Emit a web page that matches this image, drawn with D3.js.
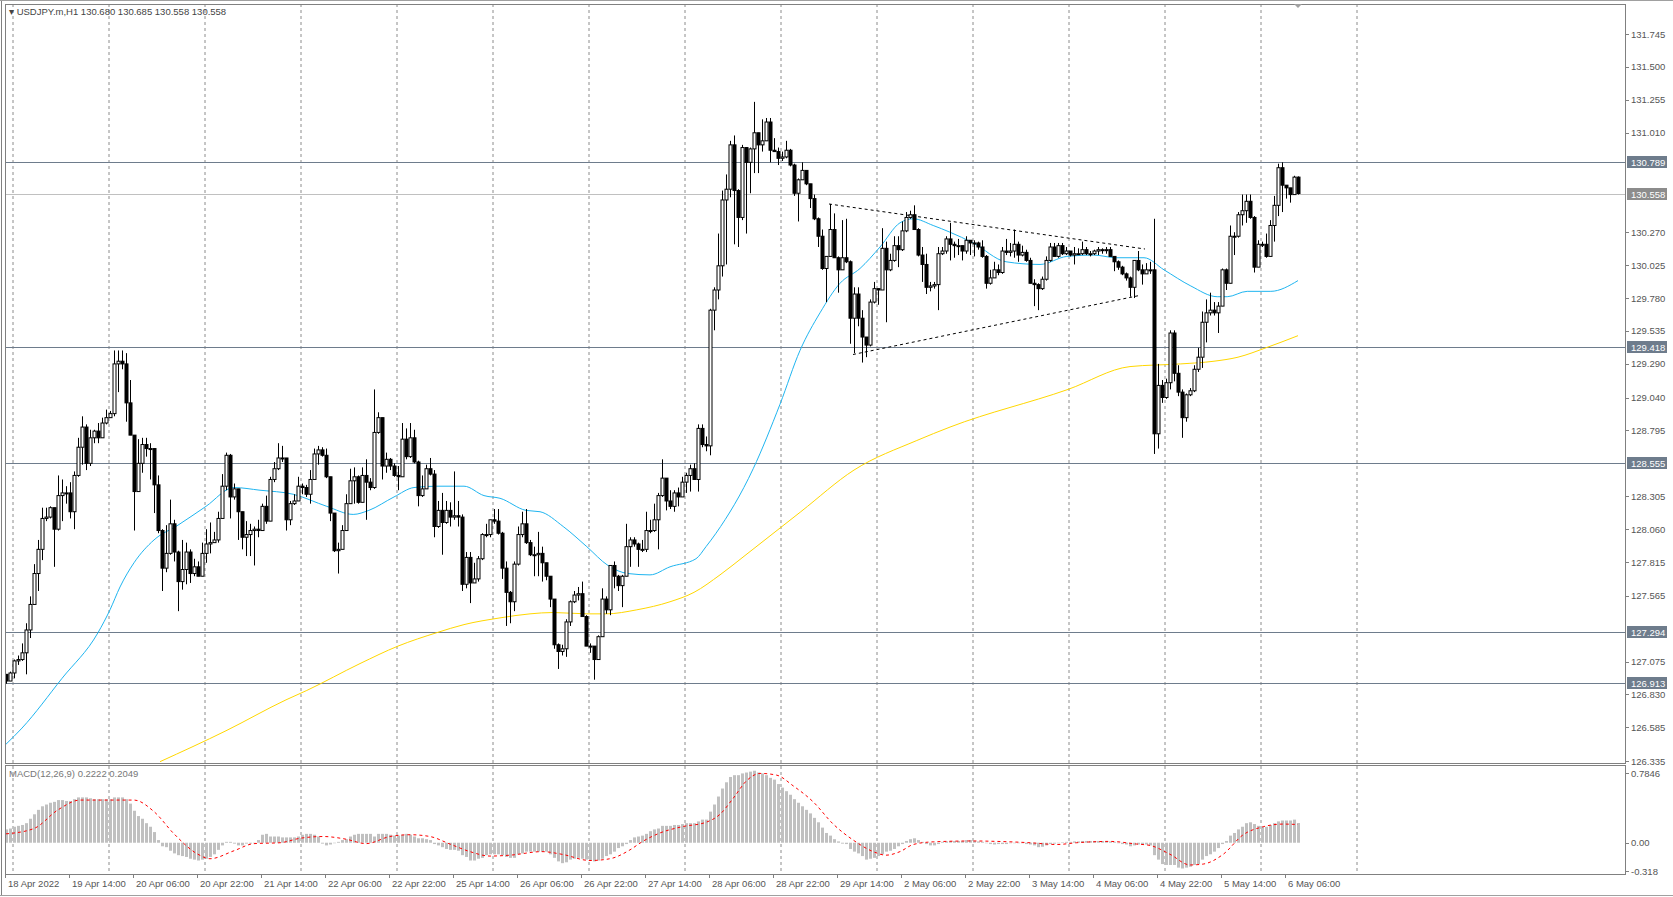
<!DOCTYPE html>
<html>
<head>
<meta charset="utf-8">
<script src="https://cdn.jsdelivr.net/npm/d3@7"></script>
<style>
  body { margin: 0; background: #fff; }
  text { font-family: "Liberation Sans", Arial, sans-serif; }
</style>
</head>
<body>
<div id="chart"></div>
<script>
// USDJPY.m H1
const closes = [
  126.93,126.99,127.08,127.09,127.14,127.31,127.50,127.73,127.91,128.14,
  128.15,128.22,128.06,128.31,128.33,128.33,128.19,128.46,128.67,128.82,
  128.55,128.74,128.79,128.74,128.85,128.89,128.92,129.29,129.31,129.29,
  129.00,128.76,128.34,128.55,128.69,128.66,128.66,128.39,128.05,127.77,
  127.88,128.10,127.89,127.67,127.76,127.89,127.73,127.78,127.71,127.88,
  127.95,127.96,127.98,128.14,128.38,128.61,128.30,128.36,128.19,128.00,
  128.02,128.05,128.06,128.05,128.23,128.12,128.43,128.51,128.59,128.59,
  128.13,128.25,128.27,128.38,128.37,128.32,128.43,128.62,128.65,128.61,
  128.45,128.18,127.90,127.91,128.05,128.25,128.42,128.45,128.26,128.46,
  128.41,128.37,128.78,128.89,128.53,128.58,128.53,128.46,128.45,128.73,
  128.60,128.74,128.56,128.31,128.36,128.51,128.47,128.08,128.20,128.11,
  128.20,128.15,128.16,128.15,127.65,127.85,127.66,127.69,127.84,128.02,
  128.02,128.13,128.12,128.03,127.77,127.59,127.52,127.80,128.02,128.10,
  127.96,127.87,127.87,127.88,127.81,127.71,127.54,127.20,127.15,127.17,
  127.37,127.52,127.57,127.58,127.41,127.19,127.19,127.09,127.26,127.54,
  127.46,127.79,127.71,127.64,127.71,127.93,127.98,127.95,127.91,127.91,
  128.05,128.05,128.13,128.31,128.44,128.27,128.23,128.33,128.30,128.41,
  128.46,128.51,128.43,128.81,128.69,128.68,129.69,129.84,130.02,130.51,
  130.59,130.92,130.58,130.38,130.90,130.79,130.89,131.01,130.92,130.95,
  131.09,130.88,130.87,130.82,130.83,130.88,130.77,130.56,130.66,130.73,
  130.63,130.52,130.37,130.24,130.00,130.09,130.29,130.08,129.99,130.08,
  130.05,129.63,129.81,129.63,129.49,129.43,129.75,129.85,129.84,130.15,
  129.99,130.06,130.17,130.14,130.28,130.38,130.40,130.29,130.10,130.03,
  129.86,129.87,129.88,130.11,130.13,130.22,130.18,130.17,130.17,130.13,
  130.21,130.19,130.19,130.16,130.09,129.89,129.93,129.99,129.97,130.13,
  130.12,130.13,130.18,130.10,130.12,130.06,129.89,129.88,129.85,129.92,
  130.06,130.16,130.09,130.17,130.11,130.13,130.10,130.11,130.11,130.14,
  130.11,130.11,130.13,130.14,130.14,130.14,130.09,130.05,130.01,129.96,
  129.93,129.86,130.06,129.99,129.96,129.99,129.99,128.77,129.13,129.04,
  129.15,129.52,129.22,129.08,128.89,129.06,129.09,129.25,129.34,129.60,
  129.67,129.69,129.67,129.72,129.99,129.89,130.24,130.24,130.40,130.43,
  130.50,130.38,130.01,130.18,130.18,130.09,130.32,130.47,130.75,130.62,
  130.60,130.55,130.68,130.558
];
const firstOpen = 126.98;
const highs = [
  126.98,127.00,127.09,127.12,127.21,127.36,127.56,127.80,127.98,128.22,
  128.22,128.23,128.22,128.46,128.43,128.38,128.41,128.49,128.74,128.90,
  128.84,128.80,128.80,128.85,128.89,128.95,128.94,129.39,129.39,129.39,
  129.37,129.17,128.76,128.73,128.74,128.74,128.70,128.46,128.46,128.06,
  128.09,128.28,128.13,127.90,127.98,127.96,127.91,127.84,127.82,127.96,
  128.06,128.11,128.04,128.19,128.47,128.63,128.62,128.40,128.27,128.19,
  128.12,128.10,128.08,128.13,128.25,128.31,128.45,128.56,128.70,128.68,
  128.59,128.27,128.32,128.45,128.40,128.39,128.50,128.66,128.68,128.67,
  128.66,128.45,128.18,127.96,128.09,128.32,128.51,128.52,128.46,128.52,
  128.58,128.44,129.10,128.93,128.89,128.63,128.59,128.55,128.53,128.85,
  128.81,128.85,128.80,128.57,128.46,128.54,128.59,128.50,128.27,128.33,
  128.27,128.26,128.49,128.27,128.17,127.89,127.89,127.81,127.86,128.03,
  128.10,128.13,128.21,128.21,128.04,127.82,127.60,127.82,128.08,128.19,
  128.21,127.98,127.93,128.04,127.93,127.81,127.71,127.54,127.21,127.20,
  127.39,127.53,127.60,127.63,127.67,127.42,127.21,127.19,127.27,127.62,
  127.56,127.79,127.82,127.72,127.72,128.10,128.00,128.00,127.96,127.98,
  128.19,128.13,128.25,128.33,128.58,128.44,128.35,128.35,128.37,128.45,
  128.48,128.54,128.55,128.84,128.84,128.75,129.70,129.86,130.26,130.58,
  130.70,130.95,130.99,130.59,130.92,130.90,130.90,131.24,131.01,131.11,
  131.12,131.12,130.97,130.90,130.87,130.95,130.89,130.78,130.67,130.79,
  130.73,130.63,130.55,130.38,130.29,130.09,130.48,130.41,130.09,130.36,
  130.37,130.06,129.86,129.86,129.69,129.49,129.77,129.90,129.85,130.30,
  130.20,130.11,130.24,130.24,130.35,130.42,130.43,130.47,130.30,130.16,
  130.11,129.90,129.90,130.16,130.16,130.24,130.34,130.20,130.22,130.17,
  130.24,130.21,130.21,130.20,130.21,130.10,129.99,130.05,130.03,130.16,
  130.22,130.19,130.29,130.20,130.17,130.14,130.08,129.92,129.89,129.94,
  130.09,130.19,130.19,130.19,130.19,130.16,130.13,130.16,130.15,130.20,
  130.16,130.13,130.14,130.16,130.15,130.16,130.16,130.09,130.06,130.02,
  129.97,129.94,130.06,130.13,130.03,130.04,130.05,130.37,129.29,129.17,
  129.18,129.54,129.54,129.28,129.10,129.07,129.11,129.28,129.41,129.68,
  129.77,129.82,129.75,129.75,130.00,130.00,130.32,130.27,130.42,130.55,
  130.55,130.55,130.39,130.21,130.20,130.26,130.36,130.54,130.78,130.79,
  130.62,130.60,130.69,130.685
];
const lows = [
  126.91,126.94,126.95,127.05,127.08,126.98,127.25,127.50,127.60,127.83,
  128.12,128.14,127.78,128.05,128.12,128.25,128.14,128.06,128.45,128.54,
  128.50,128.53,128.70,128.70,128.74,128.84,128.89,128.90,129.08,129.25,
  128.86,128.77,128.05,128.34,128.48,128.60,128.43,128.18,128.03,127.60,
  127.74,127.87,127.82,127.45,127.61,127.65,127.66,127.71,127.71,127.71,
  127.81,127.88,127.96,127.96,128.19,128.35,128.14,128.28,127.98,127.91,
  127.86,127.86,127.79,128.00,128.05,128.10,128.18,128.41,128.50,128.56,
  128.05,128.09,128.24,128.27,128.32,128.30,128.25,128.43,128.54,128.60,
  128.44,128.12,127.89,127.73,127.91,128.05,128.25,128.25,128.25,128.26,
  128.13,128.35,128.36,128.77,128.43,128.48,128.50,128.45,128.35,128.49,
  128.58,128.59,128.55,128.23,128.30,128.36,128.46,128.00,128.07,127.87,
  128.10,128.08,128.13,128.08,127.60,127.62,127.51,127.66,127.67,127.83,
  128.00,128.00,128.10,128.02,127.69,127.34,127.36,127.45,127.79,128.00,
  127.95,127.86,127.71,127.71,127.67,127.68,127.48,127.17,127.02,127.12,
  127.11,127.34,127.51,127.53,127.41,127.19,127.14,126.94,127.09,127.26,
  127.43,127.42,127.62,127.60,127.48,127.71,127.78,127.93,127.78,127.89,
  127.89,128.03,128.04,127.91,128.30,128.20,128.21,128.19,128.23,128.30,
  128.33,128.34,128.43,128.34,128.67,128.64,128.61,129.54,129.77,129.94,
  130.03,130.53,130.18,130.16,130.36,130.26,130.56,130.71,130.71,130.87,
  130.95,130.79,130.87,130.77,130.80,130.82,130.76,130.54,130.35,130.66,
  130.62,130.45,130.36,130.16,129.99,129.75,130.09,130.08,129.82,129.99,
  130.04,129.44,129.37,129.57,129.30,129.34,129.42,129.74,129.73,129.85,
  129.60,129.98,130.05,130.01,130.13,130.27,130.37,130.29,130.09,129.90,
  129.81,129.83,129.85,129.69,130.10,130.11,130.06,130.08,130.10,130.06,
  130.11,130.10,130.09,130.14,130.08,129.85,129.88,129.93,129.95,129.96,
  130.10,130.09,130.08,130.05,130.09,130.05,129.89,129.72,129.69,129.84,
  129.91,130.05,130.09,130.08,130.10,130.10,130.09,130.03,130.10,130.10,
  130.10,130.09,130.10,130.10,130.11,130.11,130.09,129.98,129.99,129.95,
  129.91,129.79,129.78,129.98,129.88,129.96,129.96,128.62,128.66,129.00,
  129.03,129.10,129.16,129.05,128.74,128.86,129.05,129.08,129.23,129.26,
  129.45,129.65,129.65,129.52,129.72,129.84,129.89,130.10,130.23,130.32,
  130.34,130.37,129.97,130.01,130.16,130.08,130.09,130.20,130.39,130.42,
  130.52,130.49,130.55,130.55
];

// moving averages (bar index, price)
const maFastBars = [0,4,14,23,26,28.5,32,37,43,50,57,63.5,71.8,80.2,86.8,90.7,97,102,107.7,114.5,119.5,123.5,130,133.5,139.3,145.2,150.5,155.5,161,166,172.5,175,177.5,186.8,193.5,198.5,203.5,208.5,213.5,218.5,223.5,226.8,231.8,236,241.8,250,258.5,265.2,271.8,277.7,284.5,289.5,296.2,302.8,305.3,310.3,316.2,323];
const maFastVals = [126.46,126.58,126.95,127.29,127.46,127.63,127.81,127.98,128.09,128.23,128.37,128.35,128.32,128.23,128.17,128.20,128.30,128.37,128.38,128.38,128.31,128.29,128.20,128.19,128.08,127.93,127.79,127.73,127.72,127.78,127.84,127.93,128.03,128.51,128.99,129.39,129.67,129.89,130.00,130.16,130.34,130.37,130.32,130.27,130.19,130.05,130.03,130.09,130.10,130.08,130.08,129.99,129.87,129.79,129.79,129.83,129.83,129.91];
const maSlowBars = [38.5,55,70,75.2,88.5,98,107.7,114.5,123.5,131,136.8,145.2,150,157.7,166,172,178.5,185,198.7,212,227.7,236,265.5,281,293.7,302,308,315,323];
const maSlowVals = [126.33,126.56,126.79,126.86,127.06,127.19,127.29,127.35,127.40,127.43,127.44,127.43,127.43,127.46,127.52,127.59,127.72,127.87,128.19,128.50,128.72,128.82,129.10,129.27,129.29,129.31,129.34,129.41,129.50];

// MACD(12,26,9)
const macdHist = [
  0.15,0.16,0.18,0.19,0.20,0.22,0.27,0.32,0.37,0.41,
  0.43,0.45,0.46,0.48,0.48,0.47,0.47,0.49,0.51,0.51,
  0.51,0.50,0.49,0.49,0.49,0.49,0.49,0.51,0.51,0.51,
  0.49,0.44,0.36,0.30,0.27,0.22,0.18,0.12,0.03,-0.04,
  -0.05,-0.09,-0.12,-0.14,-0.15,-0.16,-0.18,-0.19,-0.20,-0.19,
  -0.18,-0.16,-0.13,-0.08,-0.03,0.01,0.01,-0.01,-0.03,-0.03,
  -0.01,-0.01,0.00,0.03,0.09,0.10,0.07,0.07,0.07,0.06,
  0.06,0.06,0.06,0.07,0.09,0.10,0.10,0.09,0.07,-0.01,
  -0.03,-0.02,0.00,0.01,0.03,0.04,0.07,0.09,0.10,0.10,
  0.10,0.10,0.07,0.10,0.10,0.10,0.09,0.08,0.08,0.09,
  0.10,0.09,0.07,0.05,0.05,0.04,0.03,-0.015,-0.03,-0.05,
  -0.07,-0.08,-0.08,-0.09,-0.14,-0.16,-0.20,-0.20,-0.18,-0.17,
  -0.14,-0.13,-0.13,-0.13,-0.14,-0.16,-0.17,-0.17,-0.13,-0.12,
  -0.10,-0.10,-0.10,-0.10,-0.10,-0.10,-0.13,-0.17,-0.21,-0.23,
  -0.22,-0.19,-0.18,-0.17,-0.18,-0.19,-0.20,-0.21,-0.20,-0.18,
  -0.15,-0.13,-0.10,-0.06,-0.04,-0.015,0.03,0.06,0.07,0.08,
  0.10,0.13,0.15,0.16,0.19,0.19,0.19,0.20,0.20,0.21,
  0.22,0.22,0.22,0.24,0.26,0.26,0.35,0.43,0.52,0.61,
  0.68,0.74,0.76,0.76,0.78,0.79,0.80,0.81,0.79,0.78,
  0.76,0.73,0.71,0.66,0.62,0.58,0.54,0.49,0.45,0.41,
  0.37,0.33,0.28,0.23,0.17,0.11,0.08,0.04,0.015,-0.01,
  -0.015,-0.07,-0.10,-0.12,-0.15,-0.19,-0.18,-0.17,-0.15,-0.13,
  -0.10,-0.09,-0.07,-0.04,-0.015,0.02,0.04,0.05,0.03,0.01,
  -0.015,-0.03,-0.03,-0.015,0.01,0.015,0.02,0.02,0.02,0.02,
  0.03,0.03,0.02,0.015,0.01,0.00,-0.015,-0.02,-0.015,-0.015,
  -0.015,-0.005,-0.005,-0.005,-0.005,-0.015,-0.02,-0.03,-0.05,-0.045,
  -0.03,-0.015,-0.01,0.00,0.005,0.01,0.01,0.015,0.015,0.02,
  0.02,0.02,0.02,0.02,0.02,0.02,0.015,0.01,0.00,-0.015,
  -0.02,-0.04,-0.03,-0.02,-0.015,-0.02,-0.03,-0.14,-0.19,-0.24,
  -0.25,-0.25,-0.25,-0.28,-0.29,-0.28,-0.27,-0.25,-0.24,-0.19,
  -0.15,-0.13,-0.10,-0.06,-0.015,0.02,0.08,0.11,0.15,0.18,
  0.22,0.23,0.21,0.19,0.18,0.18,0.20,0.22,0.24,0.25,
  0.25,0.25,0.26,0.2222
];
const signalBars = [0,7,13,18.5,32,37,42,48,51,57,62,68.5,73.5,79.3,85,90,96,101,106,111,116,121,126,134,139,146,151,156,159,163.5,169,175,178.5,181.8,185.2,188.5,192.7,196.8,201.8,206.8,211.8,216.8,220,223.5,226.8,231.8,241.8,247.7,256,262.7,267.7,276,282.7,286,291,296,299.3,304.3,309.3,314.3,319.3,323];
const signalVals = [0.10,0.16,0.37,0.48,0.48,0.35,0.10,-0.13,-0.18,-0.09,-0.01,0.00,0.05,0.07,0.04,-0.01,0.07,0.09,0.07,-0.015,-0.10,-0.15,-0.14,-0.10,-0.13,-0.20,-0.18,-0.08,0.01,0.11,0.18,0.23,0.32,0.50,0.70,0.78,0.76,0.64,0.46,0.21,0.03,-0.10,-0.14,-0.10,-0.02,0.01,0.02,0.015,0.00,-0.02,0.00,0.015,-0.015,-0.03,-0.13,-0.25,-0.24,-0.13,0.09,0.18,0.21,0.2049];

// horizontal levels and the bid line
const levels = [130.789, 129.418, 128.555, 127.294, 126.913];
const bidPrice = 130.558;
// triangle pattern lines: [bar, price] pairs
const triUpper = [[205.75, 130.48], [284.75, 130.145]];
const triLower = [[211.75, 129.36], [283.5, 129.80]];

const priceTicks = [131.745,131.500,131.255,131.010,130.270,130.025,129.780,129.535,129.290,129.040,128.795,128.305,128.060,127.815,127.565,127.075,126.830,126.585,126.335];
const macdTicks = [0.7846, 0.00, -0.318];
const dateLabels = ["18 Apr 2022","19 Apr 14:00","20 Apr 06:00","20 Apr 22:00","21 Apr 14:00","22 Apr 06:00","22 Apr 22:00","25 Apr 14:00","26 Apr 06:00","26 Apr 22:00","27 Apr 14:00","28 Apr 06:00","28 Apr 22:00","29 Apr 14:00","2 May 06:00","2 May 22:00","3 May 14:00","4 May 06:00","4 May 22:00","5 May 14:00","6 May 06:00"];

const W = 1673, H = 897;
const plot = { left: 5, right: 1625, top: 4, bottom: 763, macdTop: 765, macdBottom: 874 };

const svg = d3.select("#chart").append("svg")
  .attr("width", W).attr("height", H);
svg.append("rect").attr("width", W).attr("height", H).attr("fill", "#fff");

const x = d3.scaleLinear().domain([0, 323]).range([6, 6 + 4 * 323]);
const y = d3.scaleLinear().domain([126.335, 131.745]).range([761, 34]);
const ym = d3.scaleLinear().domain([-0.318, 0.7846]).range([871, 773]);

svg.append("defs").append("clipPath").attr("id", "clip-main")
  .append("rect").attr("x", plot.left).attr("y", plot.top)
  .attr("width", plot.right - plot.left).attr("height", plot.bottom - plot.top);

// vertical dashed grid
const gridX = d3.range(0, 15).map(k => 13 + 96 * k);
svg.append("g").selectAll("line").data(gridX).join("line")
  .attr("x1", d => d).attr("x2", d => d)
  .attr("y1", plot.top).attr("y2", plot.macdBottom)
  .attr("stroke", "#8c8c8c").attr("stroke-dasharray", "3,3");

// level lines
svg.append("g").selectAll("line").data(levels).join("line")
  .attr("x1", plot.left).attr("x2", plot.right)
  .attr("y1", d => Math.round(y(d)) + 0.5).attr("y2", d => Math.round(y(d)) + 0.5)
  .attr("stroke", "#6e7c8c");
svg.append("line")
  .attr("x1", plot.left).attr("x2", plot.right)
  .attr("y1", Math.round(y(bidPrice)) + 0.5).attr("y2", Math.round(y(bidPrice)) + 0.5)
  .attr("stroke", "#c0c0c0");

const main = svg.append("g").attr("clip-path", "url(#clip-main)");

// moving averages
const line = d3.line().x(d => x(d[0])).y(d => y(d[1])).curve(d3.curveMonotoneX);
main.append("path").datum(d3.zip(maSlowBars, maSlowVals)).attr("d", line)
  .attr("fill", "none").attr("stroke", "#ffd700").attr("stroke-width", 1);
main.append("path").datum(d3.zip(maFastBars, maFastVals)).attr("d", line)
  .attr("fill", "none").attr("stroke", "#1fb5f0").attr("stroke-width", 1);

// candles
const candles = closes.map((c, i) => {
  const o = i === 0 ? firstOpen : closes[i - 1];
  return { i, o, c, h: Math.max(highs[i], o, c), l: Math.min(lows[i], o, c) };
});
const cg = main.append("g").selectAll("g").data(candles).join("g");
cg.append("line")
  .attr("x1", d => x(d.i) + 0.5).attr("x2", d => x(d.i) + 0.5)
  .attr("y1", d => y(d.h)).attr("y2", d => y(d.l))
  .attr("stroke", "#000");
cg.append("rect")
  .attr("x", d => x(d.i) - 1)
  .attr("y", d => y(Math.max(d.o, d.c)))
  .attr("width", 3)
  .attr("height", d => Math.max(1, Math.abs(y(d.o) - y(d.c))))
  .attr("fill", d => d.c >= d.o ? "#fff" : "#000")
  .attr("stroke", "#000").attr("stroke-width", 1);

// triangle pattern
[triUpper, triLower].forEach(seg => {
  main.append("line")
    .attr("x1", x(seg[0][0])).attr("y1", y(seg[0][1]))
    .attr("x2", x(seg[1][0])).attr("y2", y(seg[1][1]))
    .attr("stroke", "#000").attr("stroke-dasharray", "3,3");
});

// MACD panel
svg.append("g").selectAll("rect").data(macdHist).join("rect")
  .attr("x", (d, i) => x(i) - 1)
  .attr("y", d => Math.min(ym(d), ym(0)))
  .attr("width", 3)
  .attr("height", d => Math.max(0.5, Math.abs(ym(d) - ym(0))))
  .attr("fill", "#c0c0c0");
svg.append("path").datum(d3.zip(signalBars, signalVals))
  .attr("d", d3.line().x(d => x(d[0])).y(d => ym(d[1])).curve(d3.curveMonotoneX))
  .attr("fill", "none").attr("stroke", "#ff0000").attr("stroke-dasharray", "3,3");

// frames
svg.append("rect").attr("x", plot.left + 0.5).attr("y", plot.top + 0.5)
  .attr("width", plot.right - plot.left).attr("height", plot.bottom - plot.top)
  .attr("fill", "none").attr("stroke", "#808080");
svg.append("rect").attr("x", plot.left + 0.5).attr("y", plot.macdTop + 0.5)
  .attr("width", plot.right - plot.left).attr("height", plot.macdBottom - plot.macdTop)
  .attr("fill", "none").attr("stroke", "#808080");
svg.append("line").attr("x1", 1.5).attr("x2", 1.5).attr("y1", 0).attr("y2", 895)
  .attr("stroke", "#808080");
svg.append("line").attr("x1", 0).attr("x2", W).attr("y1", 895.5).attr("y2", 895.5)
  .attr("stroke", "#a0a0a0");
svg.append("line").attr("x1", 0).attr("x2", W).attr("y1", 0.5).attr("y2", 0.5)
  .attr("stroke", "#a0a0a0");
// shift marker
svg.append("path").attr("d", `M${x(323) - 4},4 L${x(323) + 4},4 L${x(323)},8 Z`).attr("fill", "#a0a0a0");

// price axis
const pa = svg.append("g");
pa.selectAll("line").data(priceTicks).join("line")
  .attr("x1", plot.right).attr("x2", plot.right + 4)
  .attr("y1", d => Math.round(y(d)) + 0.5).attr("y2", d => Math.round(y(d)) + 0.5)
  .attr("stroke", "#808080");
pa.selectAll("text").data(priceTicks).join("text")
  .attr("x", plot.right + 6).attr("y", d => y(d) + 3.5)
  .attr("font-size", 9.5).attr("fill", "#555")
  .text(d => d.toFixed(3));

// level labels
const tags = levels.map(v => ({ v, fill: "#6e7c8c" })).concat([{ v: bidPrice, fill: "#8c8c8c" }]);
const tg = svg.append("g").selectAll("g").data(tags).join("g");
tg.append("rect").attr("x", plot.right + 2).attr("y", d => Math.round(y(d.v)) - 6)
  .attr("width", 40).attr("height", 12).attr("fill", d => d.fill);
tg.append("text").attr("x", plot.right + 6).attr("y", d => Math.round(y(d.v)) + 4)
  .attr("font-size", 9.5).attr("fill", "#fff").text(d => d.v.toFixed(3));

// MACD axis
const ma = svg.append("g");
ma.selectAll("line").data(macdTicks).join("line")
  .attr("x1", plot.right).attr("x2", plot.right + 4)
  .attr("y1", d => Math.round(ym(d)) + 0.5).attr("y2", d => Math.round(ym(d)) + 0.5)
  .attr("stroke", "#808080");
ma.selectAll("text").data(macdTicks).join("text")
  .attr("x", plot.right + 6).attr("y", d => ym(d) + 3.5)
  .attr("font-size", 9.5).attr("fill", "#555")
  .text(d => d === 0 ? "0.00" : String(d));

// date axis
const da = svg.append("g");
da.selectAll("line").data(dateLabels).join("line")
  .attr("x1", (d, k) => x(16 * k) - 0.5).attr("x2", (d, k) => x(16 * k) - 0.5)
  .attr("y1", plot.macdBottom).attr("y2", plot.macdBottom + 4)
  .attr("stroke", "#808080");
da.selectAll("text").data(dateLabels).join("text")
  .attr("x", (d, k) => x(16 * k) + 2).attr("y", 887)
  .attr("font-size", 9.5).attr("fill", "#555")
  .text(d => d);

// titles
svg.append("text").attr("x", 9).attr("y", 15).attr("font-size", 9.5).attr("fill", "#444")
  .text("\u25BE USDJPY.m,H1  130.680 130.685 130.558 130.558");
svg.append("text").attr("x", 9).attr("y", 777).attr("font-size", 9.5).attr("fill", "#777")
  .text("MACD(12,26,9) 0.2222 0.2049");
</script>
</body>
</html>
